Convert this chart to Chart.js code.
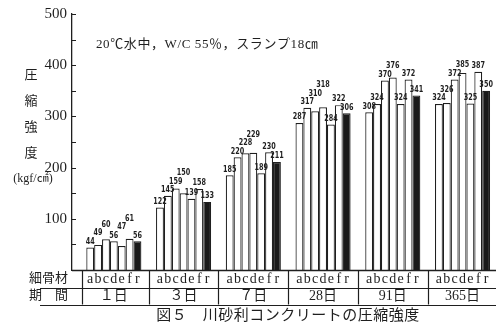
<!DOCTYPE html>
<html>
<head>
<meta charset="utf-8">
<script src="https://cdn.jsdelivr.net/npm/chart.js@4.4.0/dist/chart.umd.min.js"></script>
<style>
  html, body { margin: 0; padding: 0; background: #fff; }
  #wrap { width: 496px; height: 326px; position: relative; }
</style>
</head>
<body>
<div id="wrap"><canvas id="c" width="496" height="326"></canvas></div>
<script>
// Curing periods and fine-aggregate types
const periods = ['１日', '３日', '７日', '28日', '91日', '365日'];
const aggregates = ['a', 'b', 'c', 'd', 'e', 'f', 'r'];

// Compressive strength (kgf/cm2) for each aggregate, by period
const strengthA = [44, 122, 185, 287, 308, 324];
const strengthB = [49, 145, 220, 317, 324, 326];
const strengthC = [60, 159, 228, 310, 370, 372];
const strengthD = [56, 150, 229, 318, 376, 385];
const strengthE = [47, 139, 189, 284, 324, 325];
const strengthF = [61, 158, 230, 322, 372, 387];
const strengthR = [56, 133, 211, 306, 341, 350];

const yTicks = [100, 200, 300, 400, 500];
const yTitle = ['圧', '縮', '強', '度'];
const yUnit = '(kgf/㎠)';
const noteText = '20℃水中，W/C 55％，スランプ18㎝';
const rowLabels = ['細骨材', '期　間'];
const captionText = '図５　川砂利コンクリートの圧縮強度';

const series = [strengthA, strengthB, strengthC, strengthD, strengthE, strengthF, strengthR];

const INK = '#1f1f1f';
const SERIF = "'Liberation Serif', 'Noto Sans CJK JP', serif";
const W = 496;

function hline(ctx, x1, x2, y) {
  ctx.beginPath(); ctx.moveTo(x1, y); ctx.lineTo(x2, y); ctx.stroke();
}
function vline(ctx, x, y1, y2) {
  ctx.beginPath(); ctx.moveTo(x, y1); ctx.lineTo(x, y2); ctx.stroke();
}

const overlay = {
  id: 'overlay',
  afterDatasetsDraw(chart) {
    const { ctx, chartArea: ca, scales: { x: xs, y: ys } } = chart;
    ctx.save();
    ctx.strokeStyle = INK;
    ctx.fillStyle = INK;
    ctx.lineWidth = 1.3;

    // baseline of the bars
    const base = Math.round(ca.bottom) + 0.5;
    hline(ctx, ca.left, W, base);

    // short tick marks pointing into the plot
    ctx.lineWidth = 1;
    for (let v = 50; v <= 500; v += 50) {
      const y = Math.round(ys.getPixelForValue(v)) + 0.5;
      hline(ctx, ca.left, ca.left + 4, y);
    }

    // vertical axis title
    ctx.font = "13px " + SERIF;
    ctx.textAlign = 'center';
    ctx.textBaseline = 'middle';
    yTitle.forEach((ch, i) => ctx.fillText(ch, 31, 76 + i * 26));
    ctx.font = "12px " + SERIF;
    ctx.fillText(yUnit, 33, 179);

    // condition note
    ctx.font = "13px " + SERIF;
    ctx.textAlign = 'left';
    ctx.textBaseline = 'alphabetic';
    ctx.letterSpacing = '0.6px';
    ctx.fillText(noteText, 96, 48);
    ctx.letterSpacing = '0px';

    // value labels above each bar, stacked upwards when they collide
    const sx = 0.72;
    const lh = 8;
    ctx.font = "bold 9px 'DejaVu Sans', sans-serif";
    ctx.textAlign = 'center';
    ctx.textBaseline = 'bottom';
    periods.forEach((p, j) => {
      const placed = [];
      series.forEach((vals, i) => {
        const bar = chart.getDatasetMeta(i).data[j];
        const txt = String(vals[j]);
        const w = ctx.measureText(txt).width * sx;
        const r = { l: bar.x - w / 2, r: bar.x + w / 2, b: bar.y - 1.5 };
        r.t = r.b - lh;
        let moved = true;
        while (moved) {
          moved = false;
          for (const q of placed) {
            const hx = Math.min(r.r, q.r) - Math.max(r.l, q.l);
            const hy = Math.min(r.b, q.b) - Math.max(r.t, q.t);
            if (hx > 1 && hy > 0) {
              r.b = q.t - 0.5; r.t = r.b - lh; moved = true;
            }
          }
        }
        placed.push(r);
        ctx.save();
        ctx.translate(bar.x, r.b);
        ctx.scale(sx, 1);
        ctx.fillText(txt, 0, 0);
        ctx.restore();
      });
    });

    // table below the plot
    ctx.lineWidth = 1.2;
    const row1 = base + 17;
    const row2 = row1 + 17;
    hline(ctx, 40, W, Math.round(row1) + 0.5);
    hline(ctx, 40, W, Math.round(row2) + 0.5);
    const seps = [xs.getPixelForValue(-0.45)];
    for (let j = 1; j < periods.length; j++) seps.push(xs.getPixelForValue(j - 0.5));
    seps.forEach(x => vline(ctx, Math.round(x) + 0.5, base, row2));

    ctx.textBaseline = 'middle';
    ctx.textAlign = 'center';
    ctx.font = "14px " + SERIF;
    aggregates.forEach((k, i) => {
      chart.getDatasetMeta(i).data.forEach(bar => ctx.fillText(k, bar.x, base + 8.5));
    });
    periods.forEach((p, j) => ctx.fillText(p, xs.getPixelForValue(j), row1 + 8.5));

    ctx.font = "13px " + SERIF;
    ctx.textAlign = 'right';
    ctx.fillText(rowLabels[0], 68, base + 8.5);
    ctx.fillText(rowLabels[1], 68, row1 + 8.5);

    // caption
    ctx.textAlign = 'center';
    ctx.font = "15px " + SERIF;
    ctx.letterSpacing = '0.5px';
    ctx.fillText(captionText, 288, 316);
    ctx.restore();
  }
};

const datasets = aggregates.map((k, i) => ({
  label: k,
  data: series[i].map((v, j) => ({ x: j, y: v })),
  backgroundColor: i === aggregates.length - 1 ? '#1a1a1a' : '#ffffff',
  borderColor: INK,
  borderWidth: 1.2,
  borderSkipped: 'bottom',
  categoryPercentage: 0.79,
  barPercentage: 1.0
}));

new Chart(document.getElementById('c'), {
  type: 'bar',
  data: { datasets },
  options: {
    responsive: false,
    animation: false,
    devicePixelRatio: 1,
    layout: { padding: { top: 14, bottom: 56, left: 0, right: 0 } },
    plugins: { legend: { display: false }, tooltip: { enabled: false } },
    scales: {
      x: {
        type: 'linear',
        min: -0.6,
        max: 5.48,
        offset: false,
        display: false,
        // one tick per period so bar widths follow the period spacing
        afterBuildTicks(scale) { scale.ticks = periods.map((p, j) => ({ value: j })); }
      },
      y: {
        min: 0,
        max: 500,
        afterFit(scale) { scale.width = 72; },
        grid: { display: false, drawTicks: false },
        border: { display: true, color: INK, width: 1.3 },
        ticks: {
          stepSize: 50,
          autoSkip: false,
          padding: 5,
          color: INK,
          font: { family: SERIF, size: 15 },
          callback: v => (yTicks.includes(v) ? String(v) : '')
        }
      }
    }
  },
  plugins: [overlay]
});
</script>
</body>
</html>
